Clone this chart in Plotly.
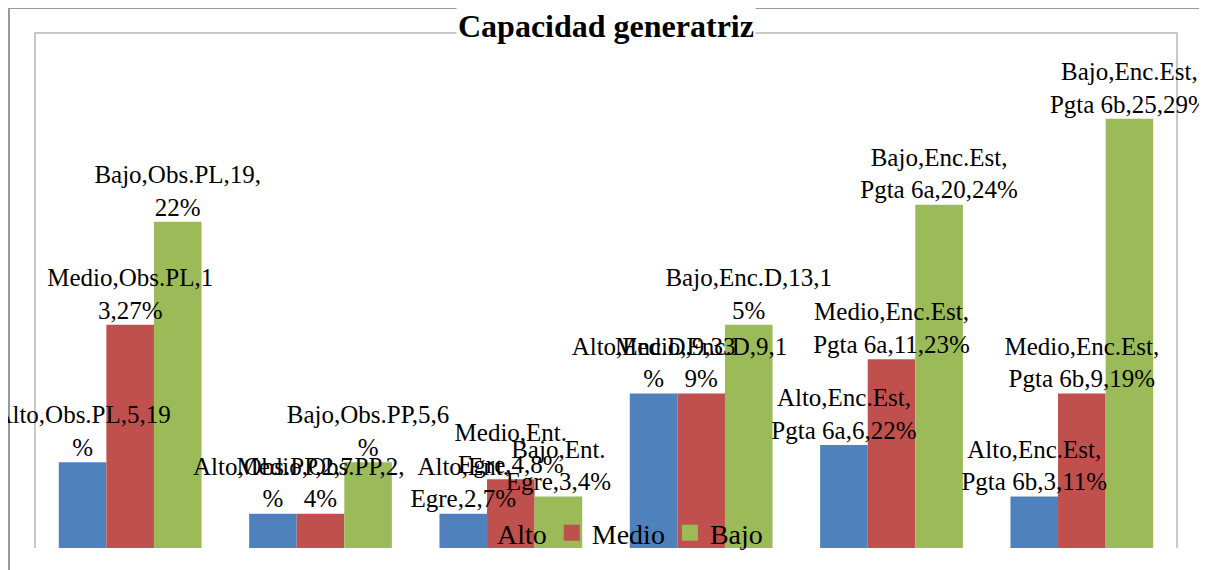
import plotly.graph_objects as go

categorias = ["Obs.PL", "Obs.PP", "Ent.Egre", "Enc.D", "Enc.Est Pgta 6a", "Enc.Est Pgta 6b"]
series = ["Alto", "Medio", "Bajo"]
alto = [5, 2, 2, 9, 6, 3]
medio = [13, 2, 4, 9, 11, 9]
bajo = [19, 5, 3, 13, 20, 25]
etiquetas_alto = ["Alto,Obs.PL,5,19<br>%", "Alto,Obs.PP,2,7<br>%", "Alto,Ent.<br>Egre,2,7%",
                  "Alto,Enc.D,9,33<br>%", "Alto,Enc.Est,<br>Pgta 6a,6,22%", "Alto,Enc.Est,<br>Pgta 6b,3,11%"]
etiquetas_medio = ["Medio,Obs.PL,1<br>3,27%", "Medio,Obs.PP,2,<br>4%", "Medio,Ent.<br>Egre,4,8%",
                   "Medio,Enc.D,9,1<br>9%", "Medio,Enc.Est,<br>Pgta 6a,11,23%", "Medio,Enc.Est,<br>Pgta 6b,9,19%"]
etiquetas_bajo = ["Bajo,Obs.PL,19,<br>22%", "Bajo,Obs.PP,5,6<br>%", "Bajo,Ent.<br>Egre,3,4%",
                  "Bajo,Enc.D,13,1<br>5%", "Bajo,Enc.Est,<br>Pgta 6a,20,24%", "Bajo,Enc.Est,<br>Pgta 6b,25,29%"]
colores = ["#4F81BD", "#C0504D", "#9BBB59"]

SERIF = "Liberation Serif"

# page body has an 8px margin: lay the figure out in page pixels shifted by it
OFF = 8
W, H = 1207 - OFF, 570 - OFF
L, R, T, B = 35 - OFF, 1207 - 1177, 33 - OFF, 570 - 548
pw, ph = W - L - R, H - T - B


def px2x(p):
    return (p - OFF - L) / pw


def px2y(p):
    return (H - B - (p - OFF)) / ph


fig = go.Figure()
for i, (nombre, vals, col) in enumerate(zip(series, [alto, medio, bajo], colores)):
    fig.add_trace(go.Bar(
        x=categorias, y=vals, name=nombre, offsetgroup=str(i), showlegend=False,
        marker=dict(color=col, line=dict(width=0)), hoverinfo="skip",
    ))
for i, (vals, txt) in enumerate(zip([alto, medio, bajo],
                                    [etiquetas_alto, etiquetas_medio, etiquetas_bajo])):
    fig.add_trace(go.Scatter(
        x=categorias, y=vals, mode="text", text=txt, textposition="top center",
        offsetgroup=str(i), cliponaxis=False, showlegend=False, hoverinfo="skip",
        textfont=dict(family=SERIF, size=25, color="#000000"),
    ))
for nombre, col in zip(series, colores):
    fig.add_trace(go.Scatter(
        x=[None], y=[None], mode="markers", name=nombre,
        marker=dict(symbol="square", size=18, color=col),
    ))

fig.update_layout(
    width=W, height=H,
    margin=dict(l=L, r=R, t=T, b=B),
    paper_bgcolor="white", plot_bgcolor="white",
    barmode="group", bargap=0.25, bargroupgap=0,
    scattermode="group", scattergap=0.25,
    xaxis=dict(visible=False),
    yaxis=dict(visible=False, range=[0, 30]),
    showlegend=True,
    legend=dict(orientation="h", x=px2x(457), xanchor="left", y=px2y(533), yanchor="middle",
                bgcolor="rgba(0,0,0,0)", itemsizing="trace",
                font=dict(family=SERIF, size=28, color="#000000"),
                itemwidth=30, traceorder="normal"),
    shapes=[
        dict(type="rect", xref="paper", yref="paper",
             x0=px2x(9), x1=px2x(1200), y0=px2y(580), y1=px2y(8),
             line=dict(color="#9A9A9A", width=2), layer="below"),
        dict(type="path", xref="paper", yref="paper",
             path=f"M {px2x(35)} {px2y(548)} L {px2x(35)} {px2y(33)} L {px2x(1177)} {px2y(33)} L {px2x(1177)} {px2y(548)}",
             line=dict(color="#C8C8C8", width=2), layer="below"),
    ],
    annotations=[
        dict(text="<b>Capacidad generatriz</b>", xref="paper", yref="paper",
             x=px2x(606), y=px2y(26), xanchor="center", yanchor="middle",
             showarrow=False, bgcolor="white",
             font=dict(family=SERIF, size=32, color="#000000")),
    ],
)

fig.write_html("out.html")
